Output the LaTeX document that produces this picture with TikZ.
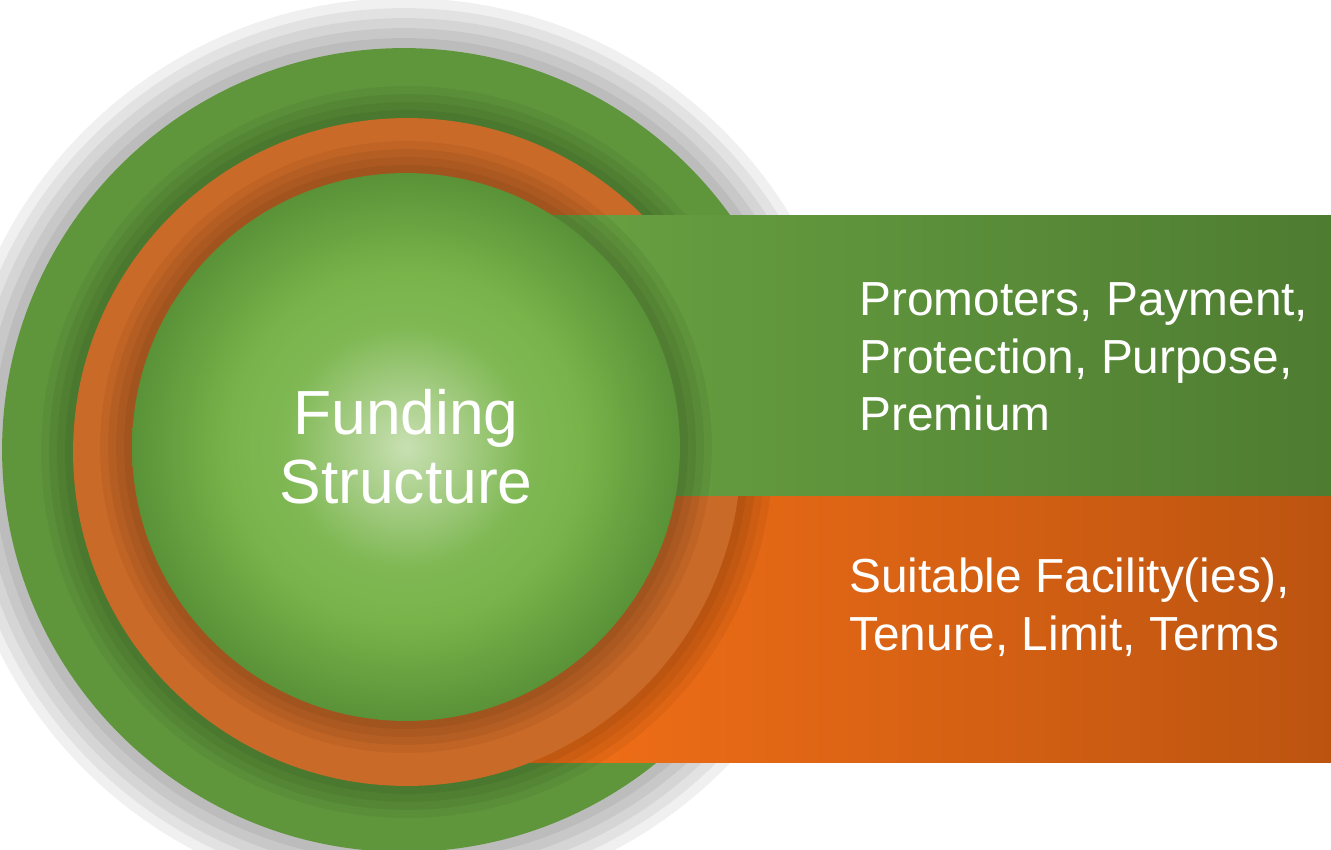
\documentclass[tikz,border=0pt]{standalone}
\usepackage{fontspec}
\setmainfont{Liberation Sans}
\definecolor{outergreen}{RGB}{95,150,60}
\definecolor{ringorange}{RGB}{202,106,40}
\definecolor{corelight}{RGB}{200,224,178}
\definecolor{coregreen}{RGB}{120,180,74}
\definecolor{coreedge}{RGB}{90,146,56}
\definecolor{bandgreenL}{RGB}{108,166,68}
\definecolor{bandgreenR}{RGB}{78,124,49}
\definecolor{bandorangeL}{RGB}{248,114,24}
\definecolor{bandorangeR}{RGB}{188,84,16}
\pgfdeclareradialshading{coreglow}{\pgfpointorigin}{color(0bp)=(corelight);
  color(11bp)=(coregreen!90!corelight); color(16bp)=(coregreen);
  color(25bp)=(coreedge); color(50bp)=(coreedge)}
\tikzset{%
  disc/.style={circle, inner sep=0pt},% the three rings
  glow/.style={fill=black, opacity=0.06},% soft grey rim outside
  halo/.style={fill=black, opacity=0.05},% shade under a ring
  bandtext/.style={text=white, inner sep=0pt, align=left,
    font=\fontsize{27.2pt}{32.9pt}\selectfont}% words in the bands
}

\begin{document}
\begin{tikzpicture}[x=0.02cm, y=-0.02cm]
\useasboundingbox (0,0) rectangle (1331,849);

% grey rim round the big ring
\fill[glow] (404,450) circle[radius=9.04cm];
\fill[glow] (404,450) circle[radius=8.84cm];
\fill[glow] (404,450) circle[radius=8.64cm];
\fill[glow] (404,450) circle[radius=8.44cm];
\fill[glow] (404,450) circle[radius=8.24cm];

\node[disc, fill=outergreen, minimum size=16.08cm] (outer) at (404,450) {};

% lower band
\shade[left color=bandorangeL, right color=bandorangeR] (450,495) rectangle (1331,762);

\fill[halo] (407,452) circle[radius=7.32cm];
\fill[halo] (407,452) circle[radius=7.16cm];
\fill[halo] (407,452) circle[radius=7.00cm];
\fill[halo] (407,452) circle[radius=6.84cm];
\node[disc, fill=ringorange, minimum size=13.36cm] (ring) at (407,452) {};

% upper band
\shade[left color=bandgreenL, right color=bandgreenR] (450,215) rectangle (1331,495);

\fill[halo] (406,447) circle[radius=6.12cm];
\fill[halo] (406,447) circle[radius=5.96cm];
\fill[halo] (406,447) circle[radius=5.80cm];
\fill[halo] (406,447) circle[radius=5.64cm];
\node[disc, shading=coreglow, minimum size=10.96cm, text=white, align=center,
  font=\fontsize{35.5pt}{39.3pt}\selectfont] (core) at (406,447) {Funding\\Structure};

\node[bandtext, anchor=north west] (pillars) at (859,282) {Promoters, Payment,\\Protection, Purpose,\\Premium};
\node[bandtext, anchor=north west] (facility) at (849,558) {Suitable Facility(ies),\\Tenure, Limit, Terms};

\end{tikzpicture}
\end{document}
